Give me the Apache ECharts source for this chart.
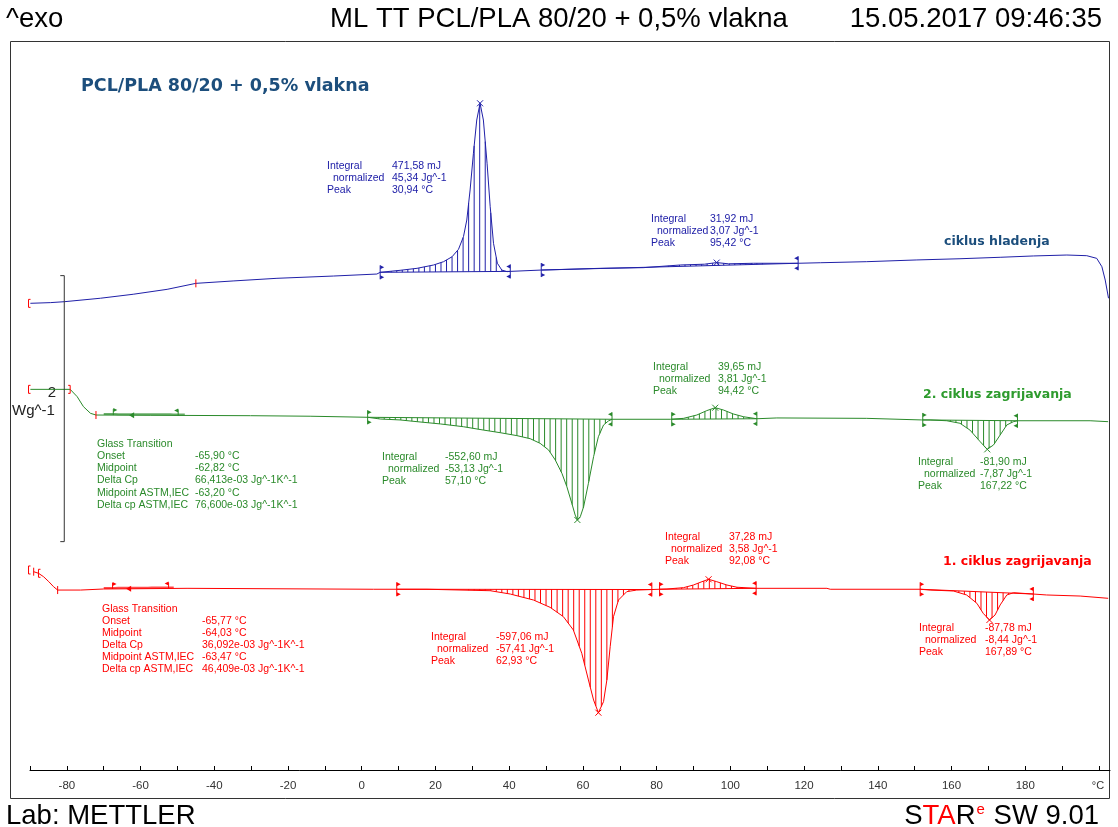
<!DOCTYPE html>
<html>
<head>
<meta charset="utf-8">
<script src="https://cdn.jsdelivr.net/npm/echarts@6/dist/echarts.min.js"></script>
<style>
  html, body { margin: 0; padding: 0; background: #fff; }
  #chart { width: 1118px; height: 827px; }
</style>
</head>
<body>
<div id="chart"></div>
<script>
// temperature (°C) and heat flow (W/g, curves stacked with an offset like STARe does)
const blueT = [-89.9,-84.5,-80.7,-70.9,-62.0,-52.8,-45.0,-34.9,-23.0,-7.7,4.1,5.0,10.4,15.0,19.5,22.2,24.5,26.25,27.6,28.5,29.4,30.3,31.2,32.1,33.0,34.0,34.85,35.75,36.8,38.0,39.4,40.3,48.7,64.7,76.4,86.4,93.0,96.3,99.5,106.3,118.4,124.4,137.0,150.6,162.3,173.2,182.2,191.3,196.7,199.4,200.8,201.7,202.6];
const blueHF = [3.509,3.514,3.521,3.547,3.577,3.614,3.659,3.677,3.697,3.714,3.729,3.742,3.757,3.772,3.797,3.822,3.859,3.915,4.010,4.135,4.361,4.637,4.887,5.013,4.887,4.562,4.235,3.960,3.810,3.759,3.747,3.749,3.759,3.772,3.777,3.797,3.803,3.815,3.806,3.810,3.810,3.814,3.822,3.835,3.844,3.855,3.865,3.872,3.867,3.847,3.784,3.684,3.547];

const greenT = [-89.9,-79.1,-77.2,-75.5,-73.6,-72.1,-57.4,-30.2,-14.0,1.6,5.0,10.4,15.0,21.3,27.6,33.0,37.6,42.1,45.7,48.4,50.7,52.5,54.3,55.65,57.0,57.9,58.5,59.3,60.2,61.5,62.9,64.2,65.6,66.9,67.9,83.7,84.1,87.3,90.9,93.6,95.9,98.1,100.8,103.6,107.2,112.6,137.0,151.9,154.2,158.7,162.3,165.0,167.8,169.7,171.4,173.2,175.0,176.8,177.9,197.6,198.1,202.5];
const greenHF = [2.862,2.862,2.807,2.732,2.682,2.669,2.667,2.664,2.660,2.652,2.639,2.632,2.619,2.602,2.581,2.556,2.536,2.514,2.491,2.456,2.406,2.331,2.231,2.130,2.005,1.917,1.880,1.905,1.980,2.156,2.356,2.506,2.594,2.624,2.637,2.637,2.637,2.644,2.669,2.702,2.724,2.707,2.677,2.656,2.641,2.647,2.644,2.632,2.632,2.626,2.607,2.556,2.468,2.411,2.444,2.519,2.594,2.619,2.626,2.626,2.617,2.619];

const redT = [-89.0,-87.7,-86.3,-84.9,-83.6,-82.5,-76.3,-70.0,-47.4,3.2,9.5,17.7,34.85,40.3,46.6,51.1,54.7,57.4,59.7,61.5,62.9,64.2,65.6,66.5,67.4,68.3,69.65,71.9,74.6,78.7,80.8,82.8,87.3,90.0,92.3,94.1,96.3,99.05,101.8,107.0,126.2,127.1,151.5,154.2,160.5,164.1,166.9,168.6,170.3,171.8,173.2,175.0,176.8,182.2,185.8,194.9,202.5];
const redHF = [1.491,1.479,1.453,1.416,1.378,1.353,1.353,1.361,1.366,1.359,1.359,1.359,1.348,1.323,1.278,1.223,1.153,1.053,0.877,0.677,0.526,0.431,0.514,0.677,0.927,1.153,1.278,1.341,1.353,1.357,1.359,1.361,1.371,1.391,1.416,1.434,1.416,1.391,1.374,1.366,1.366,1.359,1.359,1.353,1.346,1.316,1.253,1.178,1.128,1.165,1.241,1.316,1.333,1.323,1.316,1.308,1.291];

// integration limits (°C)
const blueIntegrals = [[5.0, 40.3], [48.7, 118.4]];
const greenIntegrals = [[1.6, 67.9], [84.1, 107.2], [152.2, 177.9]];
const redIntegrals = [[9.5, 78.7], [80.8, 107.0], [151.5, 182.2]];

// glass transition evaluation: [start, end] of tangent band and flag temperatures
const greenTgBand = [-70.0, -47.3];
const greenTgFlags = [-67.4, -62.3, -49.8];
const redTgBand = [-70.0, -50.1];
const redTgFlags = [-67.6, -63.1, -52.4];

// red evaluation limit marks: [curve, T, kind]
const evalMarks = [
  ['blue', -90.4, 'open'], ['blue', -45.0, 'bar'],
  ['green', -90.4, 'open'], ['green', -79.1, 'close'], ['green', -72.1, 'bar'],
  ['red', -90.4, 'open'], ['red', -89.0, 'bar'], ['red', -87.7, 'open'], ['red', -82.5, 'bar']
];

// scale bar: 2 W/g
const scaleBarT = -80.7;
const scaleBarFrom = 1.717;
const scaleBarSize = 2;

const xTicks = [-80, -60, -40, -20, 0, 20, 40, 60, 80, 100, 120, 140, 160, 180];

// result texts
const bluePeak1 = [['Integral', '471,58 mJ'], ['normalized', '45,34 Jg^-1'], ['Peak', '30,94 °C']];
const bluePeak2 = [['Integral', '31,92 mJ'], ['normalized', '3,07 Jg^-1'], ['Peak', '95,42 °C']];
const greenPeak1 = [['Integral', '-552,60 mJ'], ['normalized', '-53,13 Jg^-1'], ['Peak', '57,10 °C']];
const greenPeak2 = [['Integral', '39,65 mJ'], ['normalized', '3,81 Jg^-1'], ['Peak', '94,42 °C']];
const greenPeak3 = [['Integral', '-81,90 mJ'], ['normalized', '-7,87 Jg^-1'], ['Peak', '167,22 °C']];
const redPeak1 = [['Integral', '-597,06 mJ'], ['normalized', '-57,41 Jg^-1'], ['Peak', '62,93 °C']];
const redPeak2 = [['Integral', '37,28 mJ'], ['normalized', '3,58 Jg^-1'], ['Peak', '92,08 °C']];
const redPeak3 = [['Integral', '-87,78 mJ'], ['normalized', '-8,44 Jg^-1'], ['Peak', '167,89 °C']];
const greenTg = [['Glass Transition', ''], ['Onset', '-65,90 °C'], ['Midpoint', '-62,82 °C'], ['Delta Cp', '66,413e-03 Jg^-1K^-1'], ['Midpoint ASTM,IEC', '-63,20 °C'], ['Delta cp ASTM,IEC', '76,600e-03 Jg^-1K^-1']];
const redTg = [['Glass Transition', ''], ['Onset', '-65,77 °C'], ['Midpoint', '-64,03 °C'], ['Delta Cp', '36,092e-03 Jg^-1K^-1'], ['Midpoint ASTM,IEC', '-63,47 °C'], ['Delta cp ASTM,IEC', '46,409e-03 Jg^-1K^-1']];

const BLUE = '#2020a8', GREEN = '#2a8a2a', RED = '#ff0000', TEAL = '#1c4e7c';
const curves = {
  blue: { T: blueT, V: blueHF },
  green: { T: greenT, V: greenHF },
  red: { T: redT, V: redHF }
};

function interp(T, V, t) {
  for (let i = 1; i < T.length; i++) {
    if (t <= T[i]) {
      const f = (t - T[i - 1]) / (T[i] - T[i - 1]);
      return V[i - 1] + f * (V[i] - V[i - 1]);
    }
  }
  return V[V.length - 1];
}

function curveSeries(T, V, color) {
  return {
    type: 'line', data: T.map((t, i) => [t, V[i]]), symbol: 'none', silent: true,
    lineStyle: { width: 1, color }, z: 3
  };
}

const HATCH = 1.5;
function integralSeries(T, V, regions, color) {
  return {
    type: 'custom', silent: true, z: 4,
    data: regions.map(r => [r[0], V[0]]),
    renderItem: (params, api) => {
      const [t1, t2] = regions[params.dataIndex];
      const v1 = interp(T, V, t1), v2 = interp(T, V, t2);
      const base = t => v1 + (t - t1) / (t2 - t1) * (v2 - v1);
      const kids = [];
      const ln = (a, b) => kids.push({ type: 'line', shape: { x1: a[0], y1: a[1], x2: b[0], y2: b[1] }, style: { stroke: color, lineWidth: 1 } });
      for (let t = t1 + HATCH; t < t2 - 0.3; t += HATCH) {
        const p = api.coord([t, base(t)]), q = api.coord([t, interp(T, V, t)]);
        if (Math.abs(p[1] - q[1]) > 0.8) ln(p, q);
      }
      ln(api.coord([t1, v1]), api.coord([t2, v2]));
      [[t1, v1, 1], [t2, v2, -1]].forEach(([t, v, d]) => {
        const c = api.coord([t, v]);
        ln([c[0], c[1] - 7], [c[0], c[1] + 7]);
        kids.push({ type: 'polygon', shape: { points: [[c[0], c[1] - 7], [c[0] + 4 * d, c[1] - 5], [c[0], c[1] - 3]] }, style: { fill: color } });
        kids.push({ type: 'polygon', shape: { points: [[c[0], c[1] + 7], [c[0] + 4 * d, c[1] + 5], [c[0], c[1] + 3]] }, style: { fill: color } });
      });
      let best = -1, bd = 0;
      T.forEach((t, i) => {
        if (t > t1 && t < t2) {
          const dd = Math.abs(V[i] - base(t));
          if (dd > bd) { bd = dd; best = i; }
        }
      });
      if (best >= 0) {
        const c = api.coord([T[best], V[best]]);
        ln([c[0] - 3, c[1] - 3], [c[0] + 3, c[1] + 3]);
        ln([c[0] - 3, c[1] + 3], [c[0] + 3, c[1] - 3]);
      }
      return { type: 'group', children: kids };
    }
  };
}

function tgSeries(T, V, band, flags, color) {
  return {
    type: 'custom', silent: true, z: 4,
    data: [[band[0], V[0]]],
    renderItem: (params, api) => {
      const kids = [];
      const pts = [];
      for (let t = band[0]; t <= band[1]; t += 1) pts.push(api.coord([t, interp(T, V, t)]));
      kids.push({ type: 'polyline', shape: { points: pts.map(p => [p[0], p[1] - 1]) }, style: { stroke: color, lineWidth: 2, opacity: 0.7, fill: null } });
      flags.forEach((t, k) => {
        const c = api.coord([t, interp(T, V, t)]);
        const d = k === 2 ? -1 : 1;
        if (k === 1) {
          kids.push({ type: 'polygon', shape: { points: [[c[0] - 3, c[1]], [c[0] + 2, c[1] - 3], [c[0] + 2, c[1] + 3]] }, style: { fill: color } });
        } else {
          kids.push({ type: 'line', shape: { x1: c[0], y1: c[1] - 6, x2: c[0], y2: c[1] }, style: { stroke: color, lineWidth: 1 } });
          kids.push({ type: 'polygon', shape: { points: [[c[0], c[1] - 7], [c[0] + 4 * d, c[1] - 5], [c[0], c[1] - 3]] }, style: { fill: color } });
        }
      });
      return { type: 'group', children: kids };
    }
  };
}

const markSeries = {
  type: 'custom', silent: true, z: 5,
  data: evalMarks.map(m => [m[1], 0]),
  renderItem: (params, api) => {
    const [key, t, kind] = evalMarks[params.dataIndex];
    const c = api.coord([t, interp(curves[key].T, curves[key].V, t)]);
    const st = { stroke: RED, lineWidth: 1 };
    const kids = [{ type: 'line', shape: { x1: c[0], y1: c[1] - 4, x2: c[0], y2: c[1] + 4 }, style: st }];
    if (kind === 'open' || kind === 'close') {
      const d = kind === 'open' ? 2 : -2;
      kids.push({ type: 'line', shape: { x1: c[0], y1: c[1] - 4, x2: c[0] + d, y2: c[1] - 4 }, style: st });
      kids.push({ type: 'line', shape: { x1: c[0], y1: c[1] + 4, x2: c[0] + d, y2: c[1] + 4 }, style: st });
    }
    return { type: 'group', children: kids };
  }
};

const scaleSeries = {
  type: 'custom', silent: true, z: 5,
  data: [[scaleBarT, scaleBarFrom]],
  renderItem: (params, api) => {
    const a = api.coord([scaleBarT, scaleBarFrom]);
    const b = api.coord([scaleBarT, scaleBarFrom + scaleBarSize]);
    const st = { stroke: '#333', lineWidth: 1 };
    return { type: 'group', children: [
      { type: 'line', shape: { x1: a[0], y1: a[1], x2: b[0], y2: b[1] }, style: st },
      { type: 'line', shape: { x1: a[0] - 4, y1: a[1], x2: a[0], y2: a[1] }, style: st },
      { type: 'line', shape: { x1: b[0] - 4, y1: b[1], x2: b[0], y2: b[1] }, style: st }
    ] };
  }
};

const SMALL = '10.5px "Liberation Sans"';
function txt(x, y, text, fill, font, align) {
  return { type: 'text', x, y, silent: true,
    style: { text, fill, font, align: align || 'left', textAlign: align || 'left', verticalAlign: 'middle', textVerticalAlign: 'middle' } };
}
function block(rows, x0, xv, y0, color, dy, indent) {
  const out = [];
  rows.forEach((r, i) => {
    const ind = (indent && r[0] === 'normalized') ? 6 : 0;
    out.push(txt(x0 + ind, y0 + i * dy, r[0], color, SMALL));
    if (r[1]) out.push(txt(xv, y0 + i * dy, r[1], color, SMALL));
  });
  return out;
}

const BIG = '27.5px "Liberation Sans"';
const graphics = [
  { type: 'rect', silent: true, shape: { x: 10.5, y: 41.5, width: 1099, height: 757 }, style: { fill: null, stroke: '#333', lineWidth: 1 } },
  txt(6, 19, '^exo', '#000', BIG),
  txt(559, 19, 'ML TT PCL/PLA 80/20 + 0,5% vlakna', '#000', BIG, 'center'),
  txt(1102, 19, '15.05.2017 09:46:35', '#000', BIG, 'right'),
  txt(6, 816, 'Lab: METTLER', '#000', BIG),
  { type: 'text', x: 1099, y: 816, silent: true, style: {
      text: '{k|S}{r|TA}{k|R}{e|e}{k| SW 9.01}', align: 'right', textAlign: 'right', verticalAlign: 'middle', textVerticalAlign: 'middle',
      rich: {
        k: { fontSize: 27.5, fontFamily: 'Liberation Sans', fill: '#000', color: '#000' },
        r: { fontSize: 27.5, fontFamily: 'Liberation Sans', fill: RED, color: RED },
        e: { fontSize: 15, fontFamily: 'Liberation Sans', fill: RED, color: RED, verticalAlign: 'top', padding: [0, 1, 10, 1] }
      } } },
  txt(1098, 786, '°C', '#333', '11px "Liberation Sans"', 'center'),
  txt(81, 86, 'PCL/PLA 80/20 + 0,5% vlakna', TEAL, 'bold 17.5px "DejaVu Sans"'),
  txt(944, 242, 'ciklus hladenja', TEAL, 'bold 12.5px "DejaVu Sans"'),
  txt(923, 395, '2. ciklus zagrijavanja', '#2e9b2e', 'bold 12.5px "DejaVu Sans"'),
  txt(943, 562, '1. ciklus zagrijavanja', RED, 'bold 12.5px "DejaVu Sans"'),
  txt(56, 393, '2', '#222', '15px "Liberation Sans"', 'right'),
  txt(12, 411, 'Wg^-1', '#222', '15px "Liberation Sans"'),
  ...block(bluePeak1, 327, 392, 166, BLUE, 12, true),
  ...block(bluePeak2, 651, 710, 219, BLUE, 12, true),
  ...block(greenPeak1, 382, 445, 457, GREEN, 12, true),
  ...block(greenPeak2, 653, 718, 367, GREEN, 12, true),
  ...block(greenPeak3, 918, 980, 462, GREEN, 12, true),
  ...block(greenTg, 97, 195, 444, GREEN, 12.2, false),
  ...block(redPeak1, 431, 496, 637, RED, 12, true),
  ...block(redPeak2, 665, 729, 537, RED, 12, true),
  ...block(redPeak3, 919, 985, 628, RED, 12, true),
  ...block(redTg, 102, 202, 609, RED, 12.1, false)
];

const chart = echarts.init(document.getElementById('chart'), null, { renderer: 'canvas' });
chart.setOption({
  animation: false,
  backgroundColor: '#fff',
  grid: { left: 30, right: 8, top: 40, bottom: 57 },
  xAxis: {
    type: 'value', min: -90, max: 203, interval: 10,
    axisLine: { show: true, onZero: false, lineStyle: { color: '#000', width: 1 } },
    axisTick: { show: true, inside: true, length: 4, lineStyle: { color: '#000' } },
    axisLabel: {
      show: true, margin: 10, color: '#333', fontSize: 11.5, fontFamily: 'Liberation Sans',
      showMaxLabel: false,
      formatter: v => (xTicks.indexOf(v) >= 0 ? String(v) : '')
    },
    splitLine: { show: false }
  },
  yAxis: { type: 'value', min: 0, max: 730 / 133, show: false },
  graphic: graphics,
  series: [
    curveSeries(blueT, blueHF, BLUE),
    curveSeries(greenT, greenHF, GREEN),
    curveSeries(redT, redHF, RED),
    integralSeries(blueT, blueHF, blueIntegrals, BLUE),
    integralSeries(greenT, greenHF, greenIntegrals, GREEN),
    integralSeries(redT, redHF, redIntegrals, RED),
    tgSeries(greenT, greenHF, greenTgBand, greenTgFlags, GREEN),
    tgSeries(redT, redHF, redTgBand, redTgFlags, RED),
    markSeries,
    scaleSeries
  ]
});
</script>
</body>
</html>
